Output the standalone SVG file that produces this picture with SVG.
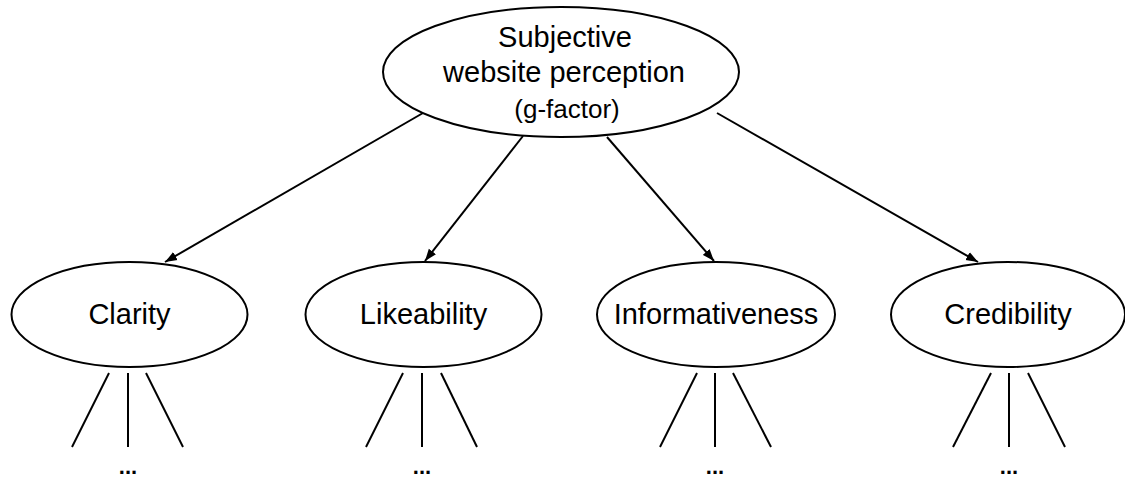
<svg xmlns="http://www.w3.org/2000/svg" width="1125" height="477" viewBox="0 0 1125 477">
<style>
  .node { fill: #ffffff; stroke: #000000; stroke-width: 2; }
  .lbl { font-family: "Liberation Sans", Arial, sans-serif; font-size: 29px; fill: #000000; text-anchor: middle; }
  .small { font-size: 26px; }
  .edge { stroke: #000000; stroke-width: 2; fill: none; }
  .arrow { marker-end: url(#ah); }
  .dots { font-family: "Liberation Sans", Arial, sans-serif; font-size: 22px; font-weight: bold; fill: #000000; text-anchor: middle; }
</style>
<defs>
  <marker id="ah" viewBox="0 0 12 10" refX="12" refY="5" markerWidth="12" markerHeight="10" markerUnits="userSpaceOnUse" orient="auto">
    <path d="M0,0.5 L12,5 L0,9.5 Z" fill="#000000"/>
  </marker>
</defs>
<rect width="1125" height="477" fill="#ffffff"/>
<g id="connectors">
  <line class="edge arrow" x1="423" y1="113" x2="165" y2="262"/>
  <line class="edge arrow" x1="523" y1="136" x2="425" y2="261"/>
  <line class="edge arrow" x1="607" y1="137" x2="714" y2="261"/>
  <line class="edge arrow" x1="717" y1="113" x2="978" y2="262"/>
  <line class="edge" x1="109" y1="373" x2="72" y2="447"/>
  <line class="edge" x1="128" y1="373" x2="128" y2="447"/>
  <line class="edge" x1="146" y1="373" x2="183" y2="447"/>
  <line class="edge" x1="403" y1="373" x2="366" y2="447"/>
  <line class="edge" x1="422" y1="373" x2="422" y2="447"/>
  <line class="edge" x1="441" y1="373" x2="477" y2="447"/>
  <line class="edge" x1="697" y1="373" x2="660" y2="447"/>
  <line class="edge" x1="715" y1="373" x2="715" y2="447"/>
  <line class="edge" x1="733" y1="373" x2="771" y2="447"/>
  <line class="edge" x1="991" y1="373" x2="953" y2="447"/>
  <line class="edge" x1="1009" y1="373" x2="1009" y2="447"/>
  <line class="edge" x1="1028" y1="373" x2="1065" y2="447"/>
</g>
<g id="top">
  <ellipse class="node" cx="561" cy="72" rx="178" ry="65"/>
  <text class="lbl" x="565" y="47">Subjective</text>
  <text class="lbl" x="564" y="82">website perception</text>
  <text class="lbl small" x="567" y="118">(g-factor)</text>
</g>
<g id="clarity">
  <ellipse class="node" cx="129.5" cy="314.5" rx="118" ry="52.5"/>
  <text class="lbl" x="129.5" y="324">Clarity</text>
</g>
<g id="likeability">
  <ellipse class="node" cx="423.5" cy="314.5" rx="118" ry="52.5"/>
  <text class="lbl" x="423.5" y="324">Likeability</text>
</g>
<g id="informativeness">
  <ellipse class="node" cx="716" cy="314.5" rx="119" ry="52.5"/>
  <text class="lbl" x="716" y="324">Informativeness</text>
</g>
<g id="credibility">
  <ellipse class="node" cx="1008" cy="314.5" rx="117" ry="52.5"/>
  <text class="lbl" x="1008" y="324">Credibility</text>
</g>
<g id="more">
  <text class="dots" x="128" y="474">...</text>
  <text class="dots" x="422" y="474">...</text>
  <text class="dots" x="715" y="474">...</text>
  <text class="dots" x="1009" y="474">...</text>
</g>
</svg>
